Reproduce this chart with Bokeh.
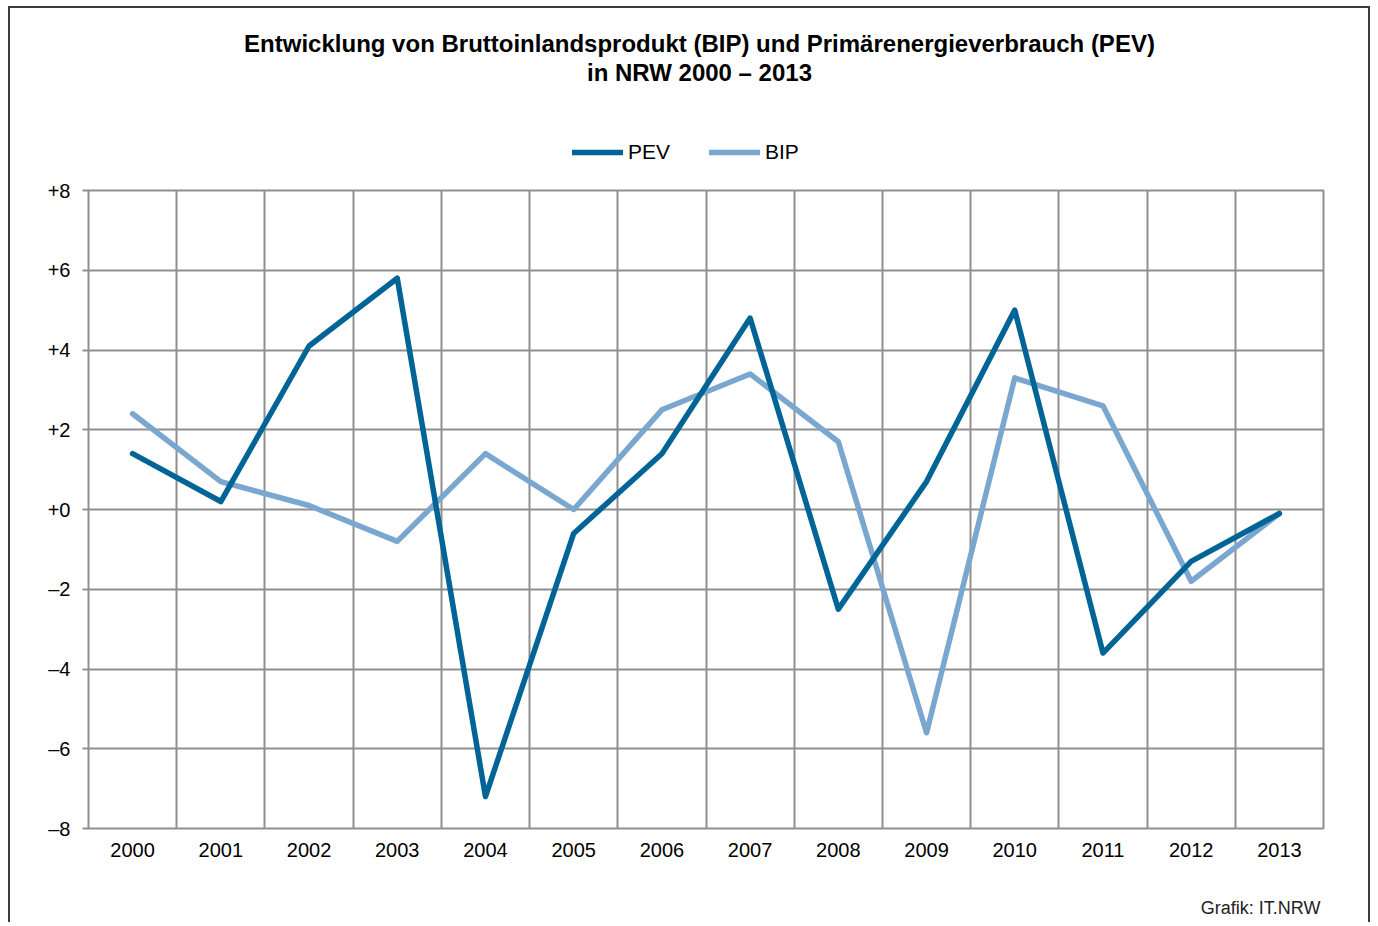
from bokeh.plotting import figure
from bokeh.layouts import column
from bokeh.models import (Range1d, FixedTicker, Label, Legend, LegendItem, ColumnDataSource)
from bokeh.embed import file_html
from bokeh.resources import INLINE

years = ["2000", "2001", "2002", "2003", "2004", "2005", "2006",
         "2007", "2008", "2009", "2010", "2011", "2012", "2013"]
pev = [1.4, 0.2, 4.1, 5.8, -7.2, -0.6, 1.4, 4.8, -2.5, 0.7, 5.0, -3.6, -1.3, -0.1]
bip = [2.4, 0.7, 0.1, -0.8, 1.4, 0.0, 2.5, 3.4, 1.7, -5.6, 3.3, 2.6, -1.8, -0.1]
y_ticks = [-8, -6, -4, -2, 0, 2, 4, 6, 8]
y_tick_labels = ["–8", "–6", "–4", "–2", "+0", "+2", "+4", "+6", "+8"]
title_lines = ["Entwicklung von Bruttoinlandsprodukt (BIP) und Primärenergieverbrauch (PEV)",
               "in NRW 2000 – 2013"]
source_text = "Grafik: IT.NRW"

PEV_COLOR = "#006497"
BIP_COLOR = "#7aa7cf"
GRID = "#8f8f8f"
BORDER = "2px solid #3a3a3a"
FONT = "Liberation Sans"
W = 1362
ML, MR = 78, 49
FW = W - ML - MR

n = len(years)
xpos = [i + 0.5 for i in range(n)]
src = ColumnDataSource(dict(x=xpos, pev=pev, bip=bip))

# ---------- header: title + legend ----------
head = figure(width=W, height=170, output_backend="svg", toolbar_location=None,
              x_range=Range1d(0, FW), y_range=Range1d(154, 0),
              x_axis_type=None, y_axis_type=None,
              min_border_left=ML, min_border_right=MR,
              min_border_top=14, min_border_bottom=0,
              styles={"border-top": BORDER, "border-left": BORDER, "border-right": BORDER})
head.title.visible = False
head.outline_line_color = None
head.xgrid.visible = False
head.ygrid.visible = False

for txt, yb in zip(title_lines, [21, 49]):
    head.add_layout(Label(x=611, y=yb, text=txt, text_align="center",
                          text_baseline="alphabetic", text_font=FONT,
                          text_font_size="24px", text_font_style="bold",
                          text_color="#000000"))

h_pev = head.line("x", "pev", source=src, line_color=PEV_COLOR, line_width=5.5,
                  line_cap="round", visible=False)
h_bip = head.line("x", "bip", source=src, line_color=BIP_COLOR, line_width=5.5,
                  line_cap="round", visible=False)
legend = Legend(items=[LegendItem(label="PEV", renderers=[h_pev]),
                       LegendItem(label="BIP", renderers=[h_bip])],
                orientation="horizontal", location=(484, 14),
                border_line_color=None, background_fill_alpha=0,
                inactive_fill_alpha=0,
                padding=0, margin=0, glyph_width=51, glyph_height=20,
                label_standoff=5, spacing=39,
                label_text_font=FONT, label_text_font_size="21px",
                label_text_color="#000000")
head.add_layout(legend, "center")

# ---------- main chart ----------
p = figure(width=W, height=692, output_backend="svg", toolbar_location=None,
           x_range=Range1d(0, n), y_range=Range1d(-8, 8),
           min_border_left=ML, min_border_right=MR, min_border_top=14, min_border_bottom=40,
           styles={"border-left": BORDER, "border-right": BORDER})
p.title.visible = False
p.outline_line_color = GRID
p.outline_line_width = 2

p.xgrid.ticker = FixedTicker(ticks=list(range(n + 1)))
p.ygrid.ticker = FixedTicker(ticks=y_ticks)
for g in (p.xgrid, p.ygrid):
    g.grid_line_color = GRID
    g.grid_line_width = 2

p.xaxis.ticker = FixedTicker(ticks=xpos)
p.xaxis.major_label_overrides = {x: y for x, y in zip(xpos, years)}
p.xaxis.axis_line_color = None
p.xaxis.major_tick_line_color = None
p.xaxis.minor_tick_line_color = None
p.xaxis.major_label_text_font = FONT
p.xaxis.major_label_text_font_size = "20px"
p.xaxis.major_label_text_color = "#000000"
p.xaxis.major_label_standoff = 8

p.yaxis.ticker = FixedTicker(ticks=y_ticks)
p.yaxis.major_label_overrides = {t: l for t, l in zip(y_ticks, y_tick_labels)}
p.yaxis.axis_line_color = None
p.yaxis.major_tick_line_color = GRID
p.yaxis.major_tick_line_width = 2
p.yaxis.major_tick_out = 6
p.yaxis.major_tick_in = 0
p.yaxis.minor_tick_line_color = None
p.yaxis.major_label_text_font = FONT
p.yaxis.major_label_text_font_size = "20px"
p.yaxis.major_label_text_color = "#000000"
p.yaxis.major_label_standoff = 12

r_bip = p.line("x", "bip", source=src, line_color=BIP_COLOR, line_width=5.5,
               line_join="round", line_cap="round")
r_pev = p.line("x", "pev", source=src, line_color=PEV_COLOR, line_width=5.5,
               line_join="round", line_cap="round")

# ---------- footer: source ----------
foot = figure(width=W, height=54, output_backend="svg", toolbar_location=None,
              x_range=Range1d(0, FW), y_range=Range1d(54, 0),
              x_axis_type=None, y_axis_type=None,
              min_border_left=ML, min_border_right=MR,
              min_border_top=0, min_border_bottom=0,
              styles={"border-left": BORDER, "border-right": BORDER})
foot.title.visible = False
foot.outline_line_color = None
foot.xgrid.visible = False
foot.ygrid.visible = False
foot.add_layout(Label(x=1232, y=39, text=source_text, text_align="right",
                      text_baseline="alphabetic", text_font=FONT,
                      text_font_size="18px", text_color="#222222"))

layout = column(head, p, foot, spacing=0,
                styles={"margin-left": "8px", "margin-top": "6px"})

open("out.html", "w").write(file_html(layout, INLINE))
